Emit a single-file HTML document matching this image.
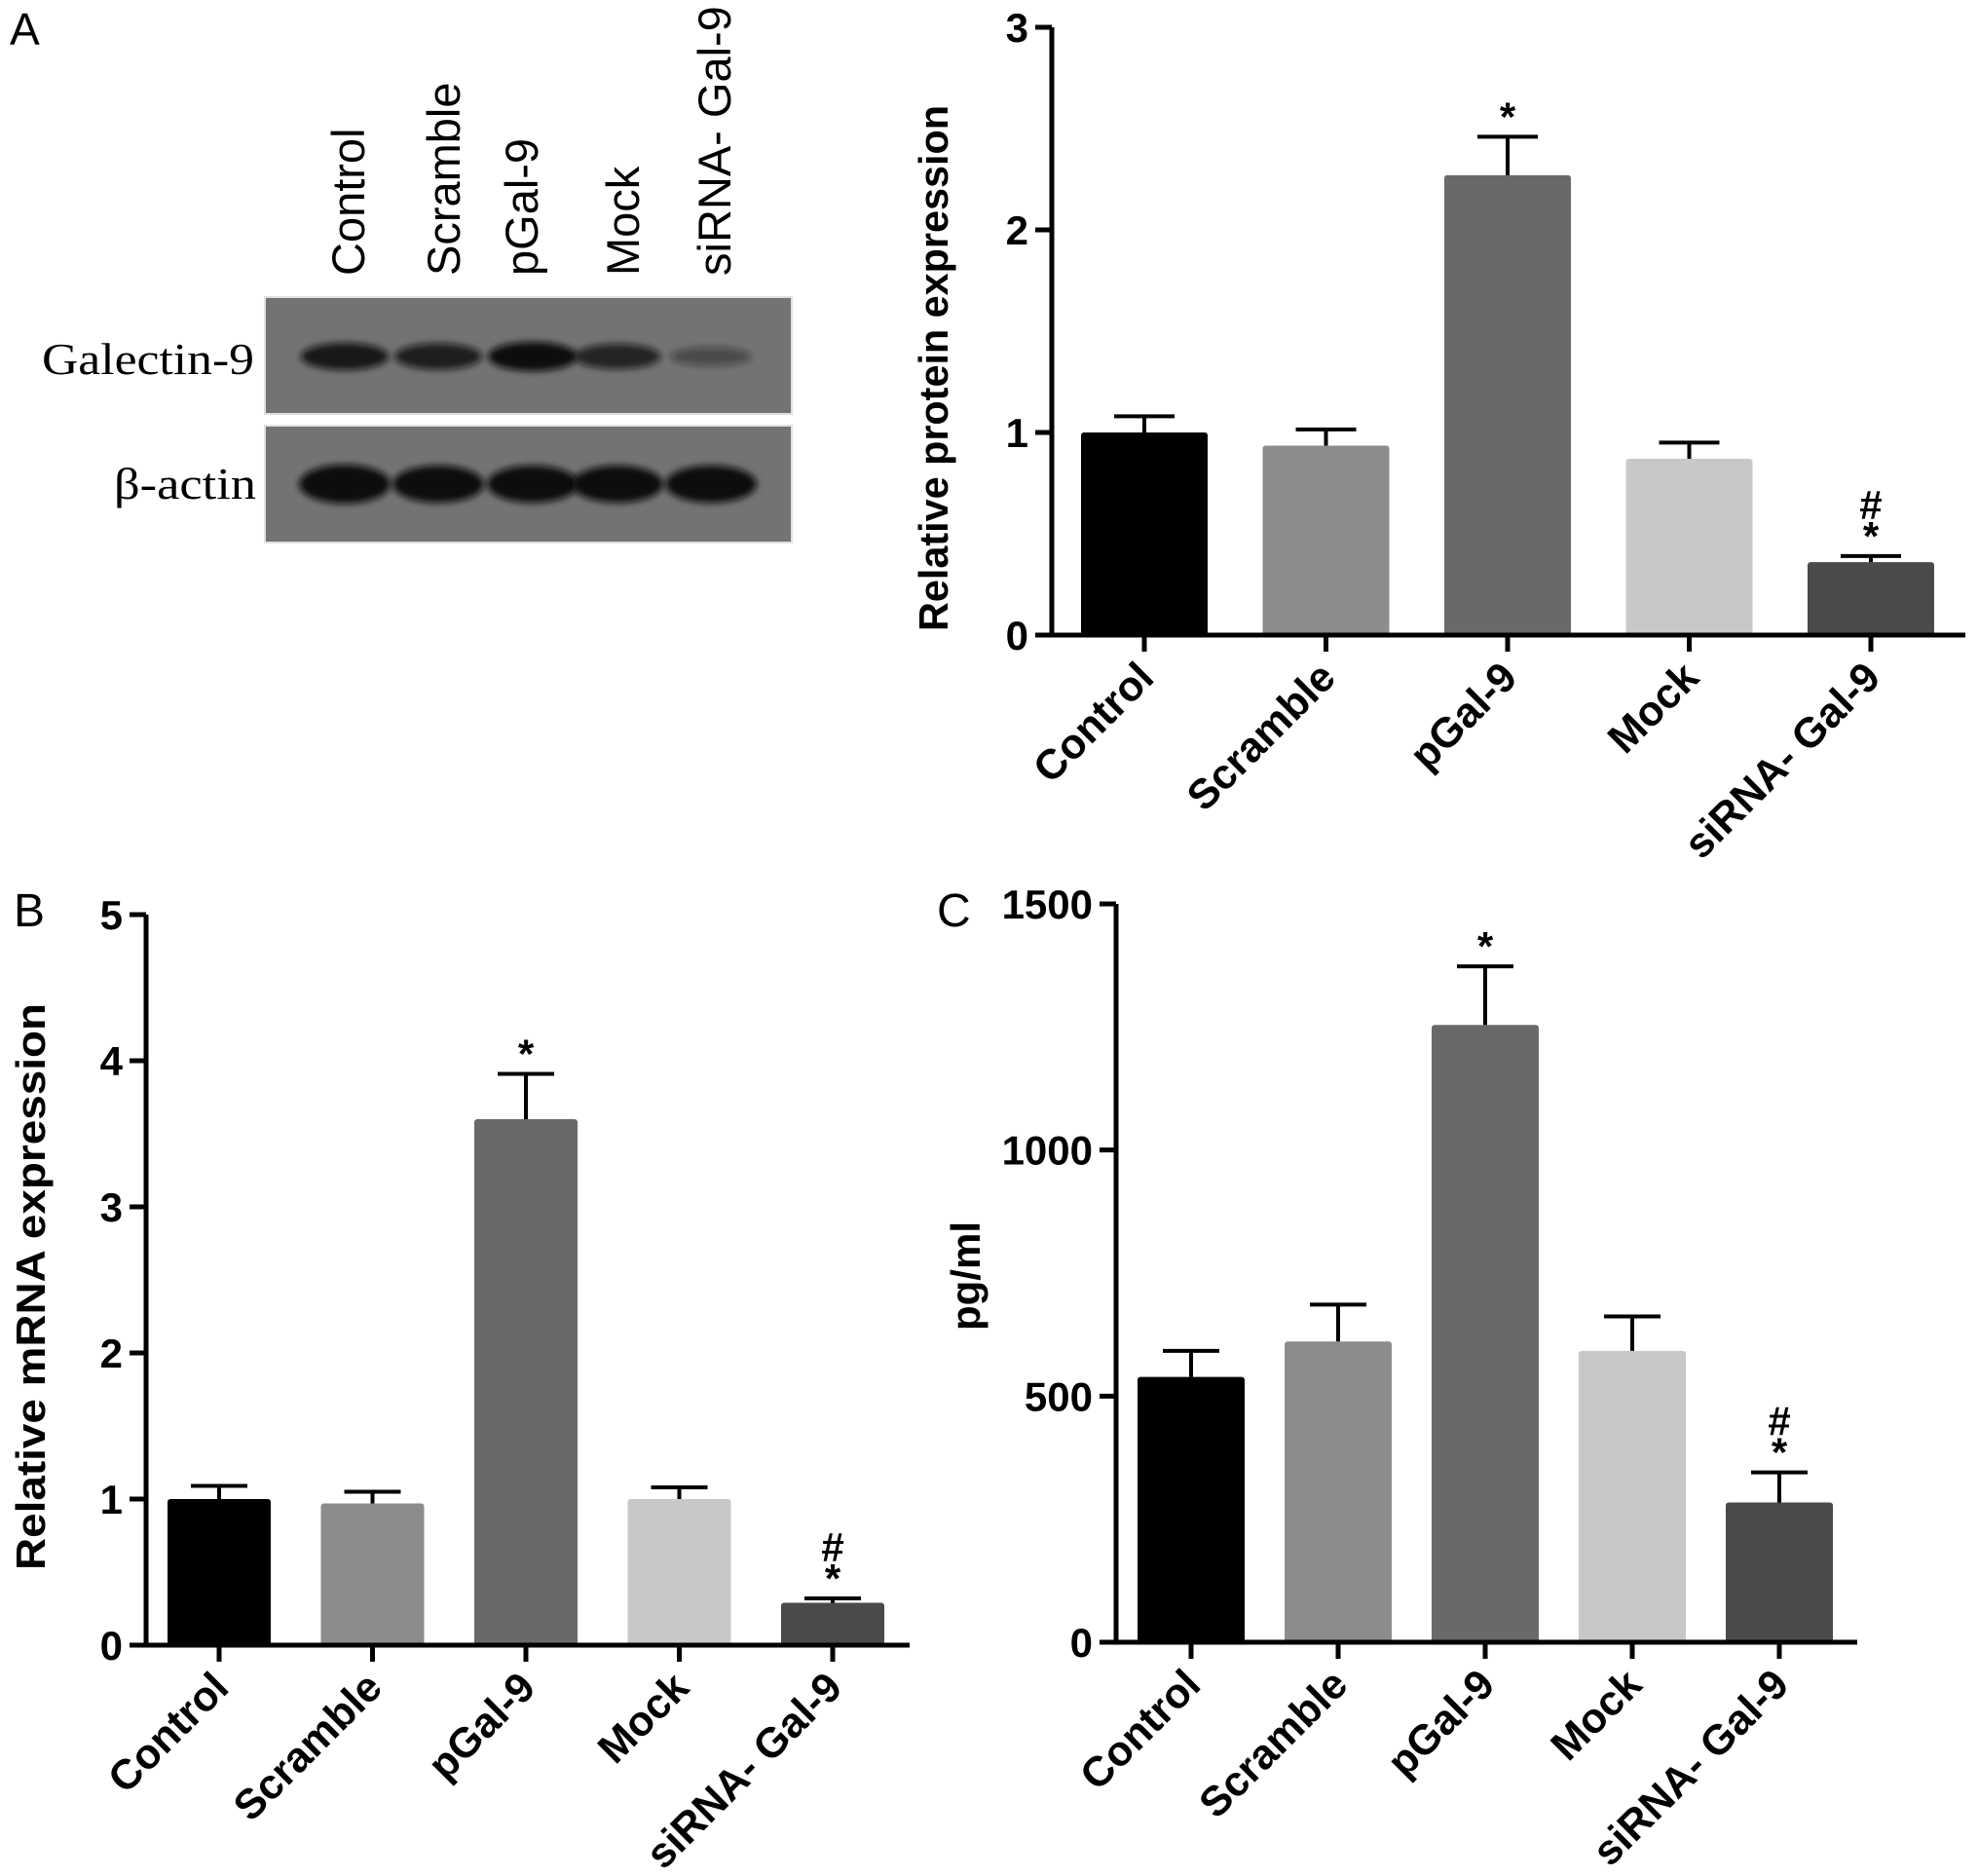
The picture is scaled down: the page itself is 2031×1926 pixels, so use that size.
<!DOCTYPE html>
<html><head><meta charset="utf-8"><style>
html,body{margin:0;padding:0;background:#fff;}
svg{display:block;font-family:"Liberation Sans",Arial,sans-serif;}
</style></head><body>
<svg id="fig" width="2031" height="1926" viewBox="0 0 2031 1926" xmlns="http://www.w3.org/2000/svg">
<defs><filter id="blur" x="-20%" y="-50%" width="140%" height="200%"><feGaussianBlur stdDeviation="3.5"/></filter></defs>
<text x="10" y="46" font-size="46">A</text>
<text x="14" y="951" font-size="48">B</text>
<text x="962" y="951" font-size="48">C</text>
<g id="blot"></g>
<g id="chartA"></g>
<g id="chartB"></g>
<g id="chartC"></g>
</svg>
<script>
const NS="http://www.w3.org/2000/svg";
const categories=["Control","Scramble","pGal-9","Mock","siRNA- Gal-9"];
const barColors=["#000000","#8c8c8c","#696969","#c8c8c8","#4a4a4a"];
const proteinValues=[1.0,0.935,2.27,0.87,0.36];
const proteinErrors=[0.08,0.08,0.19,0.08,0.03];
const proteinTicks=[0,1,2,3];
const mrnaValues=[1.0,0.97,3.6,1.0,0.29];
const mrnaErrors=[0.09,0.08,0.31,0.08,0.03];
const mrnaTicks=[0,1,2,3,4,5];
const elisaValues=[539,611,1254,592,284];
const elisaErrors=[53,75,119,70,61];
const elisaTicks=[0,500,1000,1500];
const markers=["","","*","","#*"];
const blotLanes=["Control","Scramble","pGal-9","Mock","siRNA- Gal-9"];
const galectinIntensity=[0.9,0.85,1.0,0.8,0.45];
const actinIntensity=[1,0.95,0.95,0.95,0.95];

function mk(tag,attrs,parent,txt){const e=document.createElementNS(NS,tag);for(const k in attrs)e.setAttribute(k,attrs[k]);if(txt!==undefined)e.textContent=txt;parent.appendChild(e);return e;}

function chart(g,cfg){
  const y=v=>cfg.y0-(v-cfg.vmin)/(cfg.vmax-cfg.vmin)*(cfg.y0-cfg.y1);
  const n=categories.length;
  const step=(cfg.lastTick-cfg.firstTick)/(n-1);
  const x=i=>cfg.firstTick+i*step;
  cfg.values.forEach((v,i)=>{
    const r=mk("rect",{x:x(i)-cfg.bw/2,y:y(v),width:cfg.bw,height:cfg.y0-y(v),fill:barColors[i],rx:3},g);
    
    
    const top=y(v+cfg.errors[i]);
    const e=mk("path",{d:`M${x(i)},${y(v)} V${top} M${x(i)-cfg.cap/2},${top} H${x(i)+cfg.cap/2}`,stroke:"#000","stroke-width":4,fill:"none"},g);
    
    
    const m=markers[i];
    if(m.includes("*")){
      const s=mk("text",{x:x(i),y:top-6,"text-anchor":"middle","font-size":42,"font-weight":"bold"},g,"*");
      
      
    }
    if(m.includes("#")){
      const h=mk("text",{x:x(i),y:top-38,"text-anchor":"middle","font-size":42,"font-weight":"bold"},g,"#");
      
      
    }
    const t=mk("path",{d:`M${x(i)},${cfg.y0} v17`,stroke:"#000","stroke-width":5},g);
    
    
    const lx=x(i)+12, ly=cfg.y0+46;
    const l=mk("text",{x:lx,y:ly,"text-anchor":"end","font-size":43,"font-weight":"bold",transform:`rotate(-45 ${lx} ${ly})`},g,categories[i]);
    
    
  });
  const ax=mk("path",{d:`M${cfg.ax},${cfg.y1} V${cfg.y0} M${cfg.ax-17},${cfg.y0} H${cfg.xend}`,stroke:"#000","stroke-width":5,fill:"none"},g);
  
  
  cfg.ticks.forEach(tv=>{
    const tk=mk("path",{d:`M${cfg.ax-17},${y(tv)} H${cfg.ax}`,stroke:"#000","stroke-width":5},g);
    
    
    const tl=mk("text",{x:cfg.ax-24,y:y(tv)+15,"text-anchor":"end","font-size":42,"font-weight":"bold"},g,String(tv));
    
    
  });
  const tt=mk("text",{x:cfg.tx,y:cfg.ty,"text-anchor":"middle","font-size":42,"font-weight":"bold",transform:`rotate(-90 ${cfg.tx} ${cfg.ty})`},g,cfg.title);
  if(cfg.tlen){tt.setAttribute('textLength',cfg.tlen);tt.setAttribute('lengthAdjust','spacingAndGlyphs');}
  
  
}

chart(document.getElementById("chartA"),{values:proteinValues,errors:proteinErrors,ticks:proteinTicks,vmin:0,vmax:3,y0:652,y1:28,ax:1080,xend:2018,firstTick:1175,lastTick:1921,bw:130,cap:62,title:"Relative protein expression",tx:973,ty:378,tlen:540});
chart(document.getElementById("chartB"),{values:mrnaValues,errors:mrnaErrors,ticks:mrnaTicks,vmin:0,vmax:5,y0:1689,y1:939,ax:150,xend:934,firstTick:225,lastTick:855,bw:106,cap:58,title:"Relative mRNA expression",tx:46,ty:1321,tlen:582});
chart(document.getElementById("chartC"),{values:elisaValues,errors:elisaErrors,ticks:elisaTicks,vmin:0,vmax:1500,y0:1686,y1:928,ax:1146,xend:1907,firstTick:1223,lastTick:1827,bw:110,cap:58,title:"pg/ml",tx:1006,ty:1310});

const bg=document.getElementById("blot");
const laneX=[354,450,547,634,730];
const b1=mk("rect",{x:272,y:305,width:541,height:120,fill:"#737373",stroke:"#e0e0e0","stroke-width":2},bg);


const b2=mk("rect",{x:272,y:437,width:541,height:120,fill:"#737373",stroke:"#e0e0e0","stroke-width":2},bg);


blotLanes.forEach((name,i)=>{
  const a=galectinIntensity[i];
  const e1=mk("ellipse",{cx:laneX[i],cy:366,rx:38+a*8,ry:5+a*10,fill:"#111","fill-opacity":a,filter:"url(#blur)"},bg);
  
  
  const e2=mk("ellipse",{cx:laneX[i],cy:497,rx:47,ry:18*actinIntensity[i]+2,fill:"#111",filter:"url(#blur)"},bg);
  
  
});
const laneLabelX=[374,472,552,656,750];
blotLanes.forEach((name,i)=>{
  const t=mk("text",{x:laneLabelX[i],y:283,"font-size":47,transform:`rotate(-90 ${laneLabelX[i]} 283)`},bg,name);
  
  
});
const gl=mk("text",{x:43,y:384,"font-size":46,"font-family":"Liberation Serif, serif",textLength:218,lengthAdjust:"spacingAndGlyphs"},bg,"Galectin-9");


const al=mk("text",{x:117,y:512,"font-size":46,"font-family":"Liberation Serif, serif",textLength:146,lengthAdjust:"spacingAndGlyphs"},bg,"β-actin");


</script>
</body></html>
